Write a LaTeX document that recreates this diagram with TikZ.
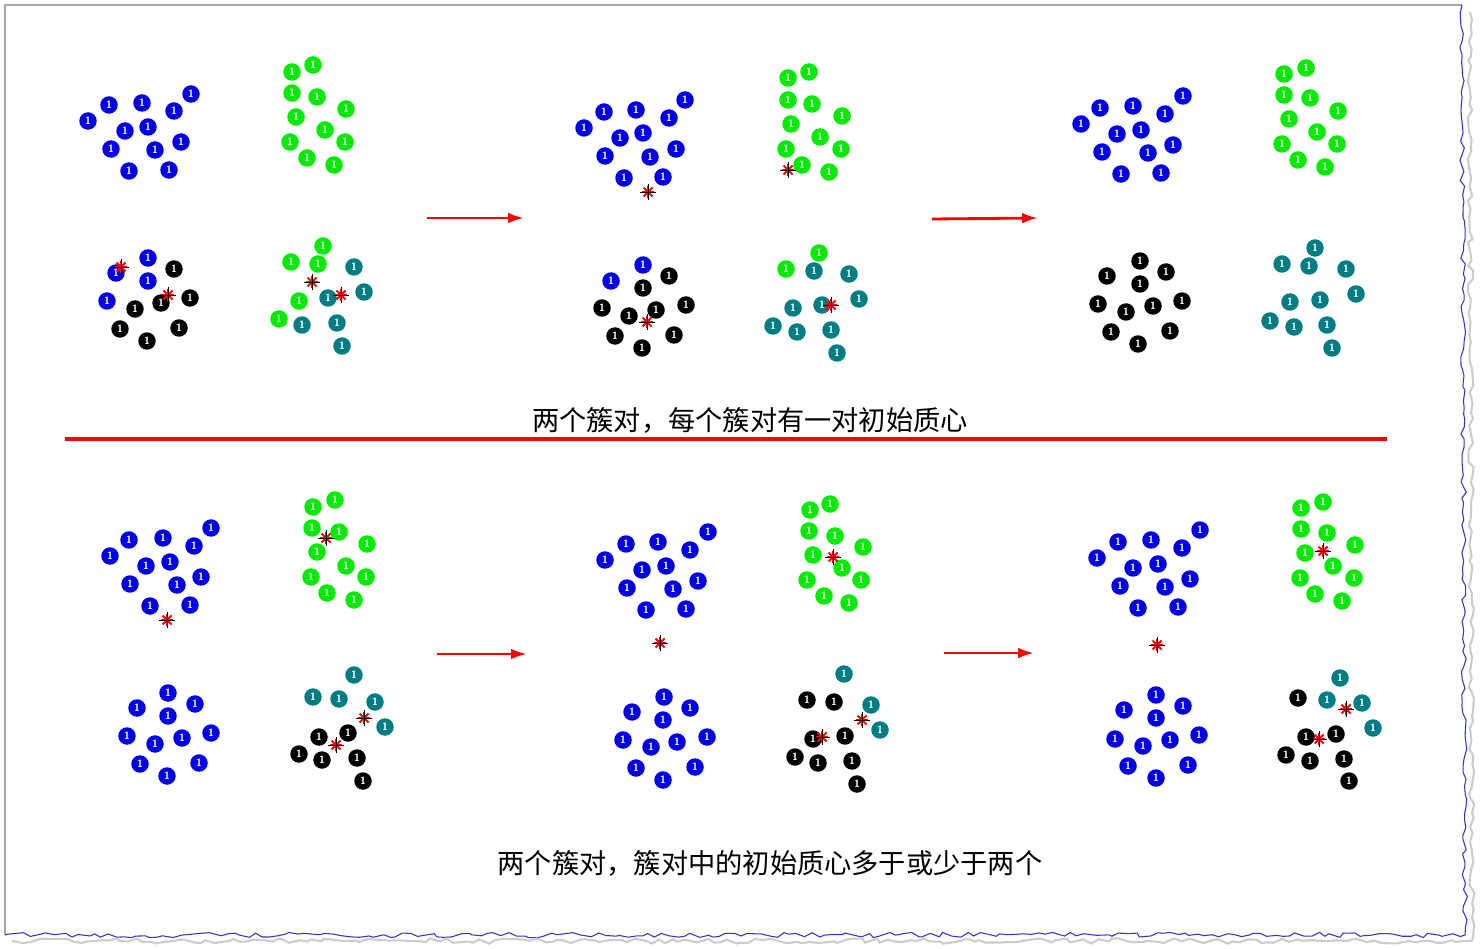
\documentclass[tikz,border=0pt]{standalone}
\usepackage{fontspec}
\newfontfamily\cjk{Noto Sans CJK SC}
\usetikzlibrary{decorations.pathmorphing,arrows.meta}
\definecolor{cblue}{RGB}{0,0,230}
\definecolor{cgreen}{RGB}{0,235,0}
\definecolor{cteal}{RGB}{0,125,130}
\tikzset{
  pt/.style={circle,fill=#1,inner sep=0pt,minimum size=0.35cm,text=white,font=\sffamily\bfseries\fontsize{6}{6}\selectfont},
  cstar/.pic={
    \draw[red,line width=1.1pt] (-6,0)--(6,0) (0,-6)--(0,6) (-4.5,-4.5)--(4.5,4.5) (-4.5,4.5)--(4.5,-4.5);
    \draw[black,line width=0.5pt] (-8,0)--(8,0) (0,-8)--(0,8);
  },
  flow/.style={red,line width=1.6pt,-{Latex[length=9pt,width=6pt]}},
  caption/.style={font=\cjk\fontsize{15.5}{15.5}\selectfont}
}
\newcommand\ptset[2]{\foreach \p in {#2} \node[pt=#1] at \p {1};}
\newcommand\stars[1]{\foreach \p in {#1} \pic at \p {cstar};}
\begin{document}
\begin{tikzpicture}[x=0.02cm,y=-0.02cm]
\useasboundingbox (0,0) rectangle (1481,949);
% frame
\draw[gray!70,line width=0.6pt] (5,935) -- (5,5) -- (1462,5);
\draw[blue!60!gray,line width=0.6pt,decorate,decoration={random steps,segment length=4pt,amplitude=1.5pt}] (1462,5) -- (1465,935) -- (5,935);
\draw[gray!40,line width=1.2pt,decorate,decoration={random steps,segment length=4pt,amplitude=1.5pt}] (1470,12) -- (1472,941) -- (12,941);
% top row, panel 1
\ptset{cblue}{(191,94),(109,105),(142,103),(88,121),(174,111),(125,131),(148,127),(181,142),(111,149),(155,150),(129,171),(169,170),(148,258),(116,273),(148,281),(107,301)}
\ptset{cgreen}{(313,65),(292,72),(292,93),(317,97),(346,109),(296,117),(325,130),(290,142),(345,142),(307,158),(334,165),(323,246),(291,262),(318,264),(299,301),(279,319)}
\ptset{black}{(174,269),(135,309),(161,303),(190,298),(120,329),(179,328),(147,341)}
\ptset{cteal}{(354,267),(364,292),(328,298),(337,323),(302,325),(342,346)}
\stars{(121,267),(168,295),(312,282),(341,295)}
% top row, panel 2
\ptset{cblue}{(685,100),(604,112),(636,110),(584,128),(669,118),(620,138),(643,133),(676,149),(605,156),(650,157),(624,178),(663,177),(643,265),(611,281)}
\ptset{cgreen}{(809,72),(788,78),(788,100),(812,104),(842,116),(791,124),(820,137),(786,149),(841,149),(802,165),(829,172),(819,253),(786,269)}
\ptset{black}{(669,276),(643,288),(602,308),(629,316),(656,310),(686,305),(615,336),(674,335),(642,348)}
\ptset{cteal}{(814,271),(849,274),(859,299),(822,305),(793,308),(831,330),(797,332),(773,326),(837,353)}
\stars{(648,192),(788,170),(647,322),(831,305)}
% top row, panel 3
\ptset{cblue}{(1183,96),(1100,108),(1133,106),(1081,124),(1165,114),(1117,134),(1141,130),(1173,145),(1102,152),(1148,153),(1121,174),(1161,173)}
\ptset{cgreen}{(1306,68),(1284,74),(1284,95),(1310,98),(1338,111),(1289,119),(1317,132),(1282,144),(1337,144),(1298,160),(1325,167)}
\ptset{black}{(1140,261),(1107,276),(1166,272),(1140,284),(1098,304),(1126,312),(1153,306),(1182,301),(1111,332),(1170,331),(1138,344)}
\ptset{cteal}{(1315,248),(1282,264),(1309,266),(1346,269),(1356,294),(1320,300),(1290,302),(1327,325),(1294,327),(1270,321),(1332,348)}
% arrows and caption
\coordinate (a1s) at (427,218); \coordinate (a1e) at (524,218);
\coordinate (a2s) at (932,219); \coordinate (a2e) at (1038,218);
\draw[flow] (a1s) -- (a1e);
\draw[flow] (a2s) -- (a2e);
\node[caption] (cap1) at (750,420) {两个簇对，每个簇对有一对初始质心};
\coordinate (sepl) at (65,439); \coordinate (sepr) at (1387,439);
\draw[red,line width=2.2pt] (sepl) -- (sepr);
% bottom row, panel 1
\ptset{cblue}{(211,528),(110,556),(129,540),(163,538),(194,546),(146,566),(170,562),(201,577),(130,584),(177,585),(150,606),(190,605),(168,693),(137,708),(195,704),(168,716),(127,736),(155,744),(182,738),(211,733),(140,764),(199,763),(167,776)}
\ptset{cgreen}{(335,500),(313,507),(312,528),(339,532),(367,544),(317,552),(346,566),(311,577),(366,577),(327,593),(354,600)}
\ptset{cteal}{(354,675),(313,697),(339,699),(375,702),(385,727)}
\ptset{black}{(348,733),(319,737),(299,754),(322,760),(357,758),(363,781)}
\stars{(167,620),(326,538),(364,718),(336,745)}
% bottom row, panel 2
\ptset{cblue}{(708,532),(605,560),(626,544),(658,542),(690,550),(642,570),(666,566),(698,581),(627,588),(673,589),(646,610),(686,609),(664,697),(632,712),(690,708),(663,720),(623,740),(651,747),(677,742),(707,737),(636,768),(695,767),(663,780)}
\ptset{cgreen}{(830,504),(810,510),(809,531),(835,536),(863,547),(813,555),(842,568),(807,580),(861,580),(824,596),(849,603)}
\ptset{cteal}{(844,674),(871,705),(880,730)}
\ptset{black}{(807,700),(834,702),(845,736),(813,739),(795,757),(818,763),(852,761),(857,784)}
\stars{(660,643),(833,557),(862,720),(822,737)}
% bottom row, panel 3
\ptset{cblue}{(1200,530),(1097,558),(1118,542),(1151,540),(1182,548),(1133,568),(1158,564),(1190,579),(1120,586),(1165,587),(1138,608),(1178,607),(1156,695),(1124,710),(1183,706),(1156,718),(1115,739),(1143,746),(1170,740),(1199,735),(1128,766),(1188,765),(1156,778)}
\ptset{cgreen}{(1323,502),(1301,508),(1301,529),(1327,533),(1355,545),(1305,553),(1333,566),(1300,578),(1354,578),(1315,594),(1342,601)}
\ptset{cteal}{(1340,678),(1327,700),(1362,703),(1373,728)}
\ptset{black}{(1298,698),(1306,737),(1336,734),(1286,755),(1310,761),(1344,759),(1349,781)}
\stars{(1157,645),(1323,551),(1346,709),(1319,739)}
% arrows and caption
\coordinate (b1s) at (437,654); \coordinate (b1e) at (527,654);
\coordinate (b2s) at (944,653); \coordinate (b2e) at (1034,653);
\draw[flow] (b1s) -- (b1e);
\draw[flow] (b2s) -- (b2e);
\node[caption] (cap2) at (770,863) {两个簇对，簇对中的初始质心多于或少于两个};
\end{tikzpicture}
\end{document}
